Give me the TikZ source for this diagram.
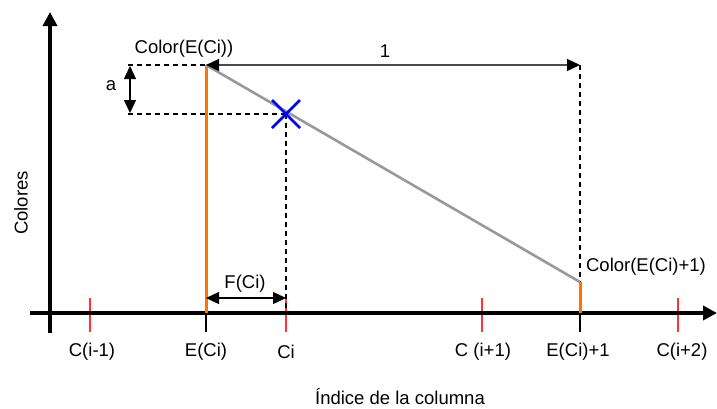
\documentclass[tikz,border=0pt]{standalone}
\usepackage{fontspec}
\setmainfont{Liberation Sans}
\usetikzlibrary{arrows.meta}
\begin{document}
\begin{tikzpicture}[x=1pt,y=-1pt,
  lbl/.style={font=\fontsize{18.5}{21}\selectfont, inner sep=0pt},
  axis/.style={line width=4pt, -{Triangle[length=14pt,width=14pt]}},
  redtick/.style={red!80!white, line width=1.3pt},
  blktick/.style={black, line width=1.3pt},
  orng/.style={orange!90!red, line width=3pt},
  dsh/.style={line width=1.2pt, dash pattern=on 5pt off 4pt},
  dim/.style={line width=1.3pt, {Triangle[length=13pt,width=12pt,color=black]}-{Triangle[length=13pt,width=12pt,color=black]}},
]
\useasboundingbox (0,0) rectangle (717,408);
% coordinates
\coordinate (ytop) at (50,12);
\coordinate (ybot) at (50,333);
\coordinate (xl) at (30,313);
\coordinate (xr) at (717,313);
\coordinate (A) at (206,65);
\coordinate (A0) at (206,313);
\coordinate (B) at (580,282);
\coordinate (B0) at (580,313);
\coordinate (B1) at (580,65);
\coordinate (X) at (286,114);
\coordinate (X0) at (286,313);
\coordinate (la) at (128,65);
\coordinate (lb) at (128,114);
\coordinate (a1) at (130,66);
\coordinate (a2) at (130,113);
\coordinate (fa) at (206,298);
\coordinate (fb) at (286,298);
% ticks
\foreach \x in {90,286,482,678}{
  \draw[redtick] (\x,298) -- (\x,332);
}
\foreach \x in {206,580}{
  \draw[blktick] (\x,313) -- (\x,332);
}
% axes
\draw[axis] (ybot) -- (ytop);
\draw[axis] (xl) -- (xr);
% dashed helpers
\draw[dsh] (la) -- (A);
\draw[dsh] (lb) -- (X);
\draw[dsh] (X) -- (X0);
\draw[dsh] (B1) -- (B);
% orange bars
\draw[orng] (A0) -- (A);
\draw[orng] (B0) -- (B);
% gray interpolation line
\draw[gray!80, line width=2.6pt] (A) -- (B);
% dimension arrows
\draw[dim, draw=gray!60!black] (A) -- (B1);
\draw[dim] (a1) -- (a2);
\draw[dim] (fa) -- (fb);
% blue cross
\draw[blue, line width=2.6pt] (272,100) -- (300,128) (272,128) -- (300,100);
% labels
\node[lbl] (lone) at (385,51) {1};
\node[lbl] (la2) at (111,86) {a};
\node[lbl] (lca) at (184,49) {Color(E(Ci))};
\node[lbl] (lcb) at (646,267) {Color(E(Ci)+1)};
\node[lbl] (lf) at (245,284) {F(Ci)};
\node[lbl] (l1) at (92,352) {C(i-1)};
\node[lbl] (l2) at (206,352) {E(Ci)};
\node[lbl] (l3) at (286,352) {Ci};
\node[lbl] (l4) at (483,352) {C (i+1)};
\node[lbl] (l5) at (578,352) {E(Ci)+1};
\node[lbl] (l6) at (682,352) {C(i+2)};
\node[lbl] (lx) at (400,397) {Índice de la columna};
\node[lbl, rotate=90] (ly) at (21,203) {Colores};
\end{tikzpicture}
\end{document}
